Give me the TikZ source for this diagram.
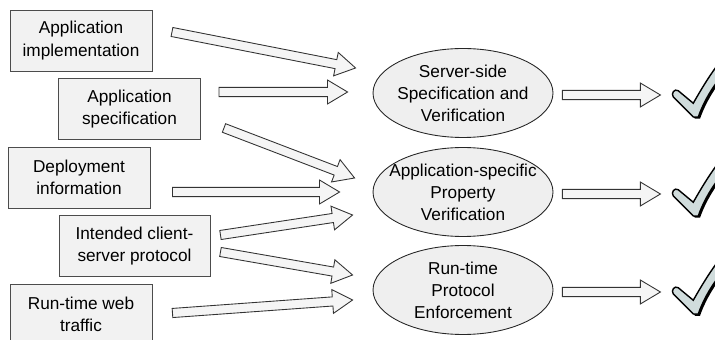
\documentclass[tikz,border=0pt]{standalone}
\usepackage{fontspec}
\setmainfont{Liberation Sans}
\usetikzlibrary{calc,positioning,shapes.geometric}

\definecolor{boxgray}{RGB}{242,242,242}
\definecolor{ovalgray}{RGB}{239,239,239}
\definecolor{tickgray}{RGB}{208,220,220}

\tikzset{
  infobox/.style={draw=black!70,fill=boxgray,line width=0.55pt,minimum width=2.84cm,
    minimum height=1.22cm,inner sep=0pt,align=center},
  stage/.style={ellipse,draw=black!85,fill=ovalgray,line width=0.5pt,minimum width=3.6cm,
    minimum height=1.78cm,inner sep=0pt},
  fat/.style={draw=black!80,fill=black!4,line width=0.5pt,line join=miter},
}

% outline of the tick, bottom corner at the origin
\newcommand\tickoutline{(-19,-16) .. controls (-21,-19) and (-18,-23) .. (-15,-21) -- (-3,-11)
  .. controls (5,-25) and (15,-42) .. (30,-58) -- (38,-52)
  .. controls (22,-38) and (8,-20) .. (1,0) -- (-3,0) -- cycle}
\tikzset{checkmark/.pic={
  \fill[black,shift={(1.4,1.4)}] \tickoutline;
  \filldraw[fill=tickgray,draw=black,line width=0.8pt] \tickoutline;
}}

% hollow block arrow from #1 to #2
\newcommand\fatarrow[2]{%
  \path[fat] let \p1=(#1), \p2=(#2), \n1={atan2(\y2-\y1,\x2-\x1)},
      \n2={veclen(\x2-\x1,\y2-\y1)-11.4pt} in
    ($(\p1)+(\n1+90:2.6pt)$) -- ++(\n1:\n2) -- ++(\n1+90:4.2pt) -- (\p2)
    -- ($(\p1)+(\n1:\n2)+(\n1-90:6.8pt)$) -- ++(\n1+90:4.2pt)
    -- ($(\p1)+(\n1-90:2.6pt)$) -- cycle;}

\begin{document}
\begin{tikzpicture}[x=0.02cm,y=-0.02cm,font=\fontsize{9.8}{12.6}\selectfont]
  \useasboundingbox (0,0) rectangle (715,340);
  \clip (0,0) rectangle (715,340);

  % inputs
  \node[infobox] (impl) at (81,40.5) {Application\\implementation};
  \node[infobox] (spec) at (129.5,109) {Application\\specification};
  \node[infobox] (deploy) at (79,177.5) {Deployment\\information};
  \node[infobox,minimum width=3.02cm] (proto) at (134.5,246) {Intended client-\\server protocol};
  \node[infobox] (traffic) at (81,314.5) {Run-time web\\traffic};

  % analyses
  \node[stage,label={[align=center]center:Server-side\\Specification and\\Verification}] (verify) at (463,93) {};
  \node[stage,label={[align=center]center:Application-specific\\Property\\Verification}] (apps) at (463,192) {};
  \node[stage,label={[align=center]center:Run-time\\Protocol\\Enforcement}] (enforce) at (463,290) {};

  \fatarrow{[shift={(19.5,-8.5)}]impl.east}{[shift={(-17,-25)}]verify.west}
  \fatarrow{[shift={(18,-17)}]spec.east}{[shift={(-25,-1)}]verify.west}
  \fatarrow{[shift={(23,19)}]spec.east}{[shift={(-18,-14)}]apps.west}
  \fatarrow{[shift={(22,14.5)}]deploy.east}{[shift={(-33,0)}]apps.west}
  \fatarrow{[shift={(10,-11)}]proto.east}{[shift={(-20,23)}]apps.west}
  \fatarrow{[shift={(10,6)}]proto.east}{[shift={(-20,-15)}]enforce.west}
  \fatarrow{[shift={(20,-1.5)}]traffic.east}{[shift={(-20,10)}]enforce.west}

  % results
  \foreach \s in {verify,apps,enforce}{
    \fatarrow{[shift={(9,2)}]\s.east}{[shift={(107,2)}]\s.east}
    \pic[scale=1.25] at ([shift={(234,24)}]\s.center) {checkmark};
  }
\end{tikzpicture}
\end{document}
